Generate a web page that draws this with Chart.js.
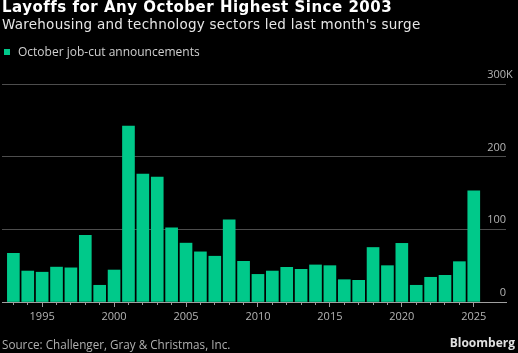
<!DOCTYPE html>
<html>
<head>
<meta charset="utf-8">
<script src="https://cdn.jsdelivr.net/npm/chart.js@4/dist/chart.umd.min.js"></script>
<style>
  html, body { margin: 0; padding: 0; background: #000; }
  #wrap { position: relative; width: 518px; height: 353px; background: #000; overflow: hidden; font-family: "Open Sans", sans-serif; }
  #c { position: absolute; left: 0; top: 0; }
  .t { position: absolute; white-space: nowrap; line-height: 1; }
  #title { left: 2px; top: 0px; font-family: "DejaVu Sans", sans-serif; font-size: 15px; letter-spacing: 0.5px; font-weight: 700; color: #fff; }
  #subtitle { left: 2px; top: 18px; font-family: "DejaVu Sans", sans-serif; font-size: 13.5px; letter-spacing: 0.25px; color: #e6e6e6; }
  #legend { left: 4px; top: 46px; font-size: 12px; color: #d0d0d0; }
  #legend .sw { display: inline-block; width: 6px; height: 6px; background: #00c98a; margin-right: 8px; vertical-align: 1px; }
  #source { left: 2px; top: 339px; font-size: 11.7px; color: #b0b0b0; }
  #brand { right: 3px; top: 337px; font-size: 12px; font-weight: 700; color: #e0e0e0; }
</style>
</head>
<body>
<div id="wrap">
  <canvas id="c" width="518" height="353"></canvas>
  <div class="t" id="title">Layoffs for Any October Highest Since 2003</div>
  <div class="t" id="subtitle">Warehousing and technology sectors led last month's surge</div>
  <div class="t" id="legend"><span class="sw"></span>October job-cut announcements</div>
  <div class="t" id="source">Source: Challenger, Gray &amp; Christmas, Inc.</div>
  <div class="t" id="brand">Bloomberg</div>
</div>
<script>
const years = [1993,1994,1995,1996,1997,1998,1999,2000,2001,2002,2003,2004,2005,2006,2007,2008,2009,2010,2011,2012,2013,2014,2015,2016,2017,2018,2019,2020,2021,2022,2023,2024,2025];
const jobCuts = [67,42.6,41,48,47,91.7,23,44,242,176,172,102,81,69,63,113,56,38,42.6,47.7,45,51,50,30.7,29.8,75,50,80.7,23,34,36.7,55.5,153];
const yTicks = [0,100,200,300];
const xLabelYears = [1995,2000,2005,2010,2015,2020,2025];

const barColor = '#00c98a';
const xMin = 1992.21, xMax = 2027.24;

const yLabelPlugin = {
  id: 'yLabels',
  afterDatasetsDraw(chart) {
    const y = chart.scales.y;
    const ctx = chart.ctx;
    const right = chart.chartArea.right;
    ctx.save();
    ctx.font = '11px "Open Sans", sans-serif';
    ctx.fillStyle = '#b4b4b4';
    ctx.textBaseline = 'alphabetic';
    yTicks.forEach(v => {
      const py = y.getPixelForValue(v) - 6;
      const txt = String(v);
      ctx.textAlign = 'right';
      ctx.fillText(txt, right, py);
      if (v === yTicks[yTicks.length - 1]) {
        ctx.textAlign = 'left';
        ctx.fillText('K', right, py);
      }
    });
    ctx.restore();
  }
};

new Chart(document.getElementById('c'), {
  type: 'bar',
  data: {
    datasets: [{
      label: 'October job-cut announcements',
      data: years.map((yr, i) => ({ x: yr, y: jobCuts[i] })),
      backgroundColor: barColor,
      borderWidth: 0,
      barThickness: 12,
      xAxisID: 'x'
    }]
  },
  options: {
    responsive: false,
    animation: false,
    layout: { padding: { top: 84, left: 2, right: 12, bottom: 0 } },
    plugins: { legend: { display: false }, tooltip: { enabled: false }, title: { display: false } },
    scales: {
      x: {
        type: 'linear',
        min: xMin,
        max: xMax,
        bounds: 'data',
        offset: false,
        position: 'bottom',
        weight: 0,
        afterBuildTicks: (s) => { s.ticks = years.map(v => ({ value: v })); },
        afterFit: (s) => { s.height = 0; },
        grid: { display: true, offset: false, drawOnChartArea: false, drawTicks: true, tickLength: 3, tickColor: '#9a9a9a', tickWidth: 1 },
        border: { display: true, color: '#a0a0a0', width: 1 },
        ticks: { display: false }
      },
      xMajor: {
        type: 'linear',
        min: xMin,
        max: xMax,
        bounds: 'data',
        offset: false,
        position: 'bottom',
        weight: 1,
        afterBuildTicks: (s) => { s.ticks = xLabelYears.map(v => ({ value: v })); },
        afterFit: (s) => { s.height = 51; },
        grid: { display: true, offset: false, drawOnChartArea: false, drawTicks: true, tickLength: 5, tickColor: '#9a9a9a', tickWidth: 1 },
        border: { display: false },
        ticks: {
          color: '#b4b4b4',
          font: { family: '"Open Sans", sans-serif', size: 11 },
          padding: 3,
          maxRotation: 0,
          autoSkip: false,
          callback: (v) => String(v)
        }
      },
      y: {
        type: 'linear',
        min: 0,
        max: 300,
        position: 'right',
        afterBuildTicks: (s) => { s.ticks = yTicks.map(v => ({ value: v })); },
        afterFit: (s) => { s.width = 0; },
        grid: { color: '#4d4d4d', lineWidth: 1, drawTicks: false },
        border: { display: false },
        ticks: { display: false }
      }
    }
  },
  plugins: [yLabelPlugin]
});
</script>
</body>
</html>
